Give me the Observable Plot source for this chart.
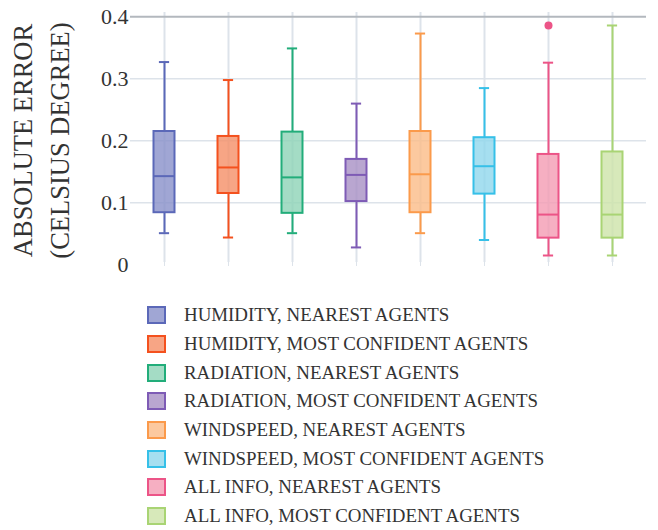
<!DOCTYPE html>
<html>
<head>
<meta charset="utf-8">
<script src="https://cdn.jsdelivr.net/npm/d3@7"></script>
<script src="https://cdn.jsdelivr.net/npm/@observablehq/plot@0.6"></script>
<style>
  html, body { margin: 0; padding: 0; background: #fff; }
  #chart svg { display: block; overflow: visible; }
  #chart g[aria-label^="x-axis"] { color: #dde3ea; }
  #legend { padding-top: 11px; padding-left: 147px; font-family: "Liberation Serif", serif; font-size: 18.9px; color: #333; }
  .row { display: flex; align-items: center; height: 28.7px; }
  .sw { box-sizing: border-box; width: 19px; height: 18px; border: 2px solid; margin-right: 18px; }
</style>
</head>
<body>
<div id="chart"></div>
<div id="legend"></div>
<script>
const categories = [
  "HUMIDITY, NEAREST AGENTS",
  "HUMIDITY, MOST CONFIDENT AGENTS",
  "RADIATION, NEAREST AGENTS",
  "RADIATION, MOST CONFIDENT AGENTS",
  "WINDSPEED, NEAREST AGENTS",
  "WINDSPEED, MOST CONFIDENT AGENTS",
  "ALL INFO, NEAREST AGENTS",
  "ALL INFO, MOST CONFIDENT AGENTS"
];
const lowWhisker  = [0.051, 0.044, 0.051, 0.028, 0.051, 0.040, 0.015, 0.015];
const q1          = [0.084, 0.115, 0.083, 0.102, 0.084, 0.114, 0.043, 0.043];
const median      = [0.143, 0.157, 0.141, 0.145, 0.146, 0.159, 0.081, 0.081];
const q3          = [0.215, 0.207, 0.214, 0.170, 0.215, 0.205, 0.178, 0.182];
const highWhisker = [0.327, 0.298, 0.349, 0.260, 0.373, 0.285, 0.326, 0.386];
const outlierCategories = ["ALL INFO, NEAREST AGENTS"];
const outlierValues = [0.386];
const strokeColors = ["#5b68b8", "#f4511e", "#22ad7a", "#7e5bb5", "#fb9a4b", "#36c0e8", "#ec5487", "#a9d474"];
const fillColors   = ["#8890c9", "#f58f67", "#8dd3b7", "#a790c4", "#fbbc87", "#90d7ec", "#f49bb3", "#cde4a9"];
const yTicks = [0, 0.1, 0.2, 0.3, 0.4];
const yTickLabels = ["0", "0.1", "0.2", "0.3", "0.4"];
const gridTicks = [0.1, 0.2, 0.3];
const topLine = [0.4];
const yLabel = "ABSOLUTE ERROR\n(CELSIUS DEGREE)";

const boxes = categories.map((name, i) => ({
  name, low: lowWhisker[i], q1: q1[i], med: median[i], q3: q3[i], high: highWhisker[i], fill: fillColors[i]
}));
const outliers = outlierCategories.map((name, i) => ({name, value: outlierValues[i]}));

const chart = Plot.plot({
  width: 658,
  height: 290,
  marginLeft: 130,
  marginRight: 12,
  marginTop: 12,
  marginBottom: 28,
  style: {fontFamily: "Liberation Serif, serif", fontSize: "22px", color: "#333", background: "#fff"},
  x: {type: "band", domain: categories, padding: 0, tickFormat: () => "", tickSize: 4, tickPadding: 0, label: null},
  y: {domain: [0, 0.4], ticks: yTicks, tickFormat: d => yTickLabels[yTicks.indexOf(d)], tickSize: 0, tickPadding: 2, label: null, insetTop: 4.3, insetBottom: -2.3},
  color: {type: "ordinal", domain: categories, range: strokeColors},
  marks: [
    Plot.ruleY(gridTicks, {stroke: "#dde3ea", strokeWidth: 1.5}),
    Plot.ruleX(categories, {x: d => d, stroke: "#dde3ea", strokeWidth: 2}),
    Plot.ruleY(topLine, {stroke: "#b3b8be", strokeWidth: 2}),
    Plot.ruleX(boxes, {x: "name", y1: "low", y2: "q1", stroke: "name", strokeWidth: 2}),
    Plot.ruleX(boxes, {x: "name", y1: "q3", y2: "high", stroke: "name", strokeWidth: 2}),
    Plot.tickY(boxes, {x: "name", y: "low", stroke: "name", strokeWidth: 2, insetLeft: 26.9, insetRight: 26.9}),
    Plot.tickY(boxes, {x: "name", y: "high", stroke: "name", strokeWidth: 2, insetLeft: 26.9, insetRight: 26.9}),
    Plot.rectY(boxes, {x: "name", y1: "q1", y2: "q3", fill: "fill", fillOpacity: 0.8, stroke: "name", strokeWidth: 2, insetLeft: 21.5, insetRight: 21.5}),
    Plot.tickY(boxes, {x: "name", y: "med", stroke: "name", strokeWidth: 2, insetLeft: 21.5, insetRight: 21.5}),
    Plot.dot(outliers, {x: "name", y: "value", fill: "name", r: 4, stroke: null}),
    Plot.text([yLabel], {frameAnchor: "left", text: d => d, rotate: -90, dx: -92, dy: 3, fontSize: 26.5, lineHeight: 1.39, textAnchor: "middle", lineAnchor: "middle", fill: "#333"})
  ]
});
document.getElementById("chart").append(chart);

const legend = document.getElementById("legend");
categories.forEach((name, i) => {
  const row = document.createElement("div");
  row.className = "row";
  const sw = document.createElement("div");
  sw.className = "sw";
  sw.style.borderColor = strokeColors[i];
  sw.style.background = d3.interpolateRgb(fillColors[i], "#fff")(0.2);
  const label = document.createElement("span");
  label.textContent = name;
  row.append(sw, label);
  legend.append(row);
});
</script>
</body>
</html>
